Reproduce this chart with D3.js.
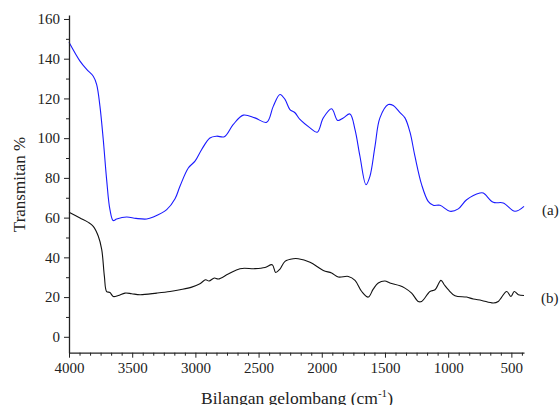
<!DOCTYPE html>
<html><head><meta charset="utf-8">
<script src="https://cdn.jsdelivr.net/npm/d3@7"></script>
<style>body{margin:0;background:#fff}svg{display:block}text{font-family:"Liberation Serif","Times New Roman",serif;fill:#222}</style>
</head><body><div id="chart"></div>
<script>
// wavenumber (cm-1) and transmittance (%)
const waveA = [4000,3913,3860,3808,3781,3755,3729,3702,3676,3650,3623,3544,3470,3385,3333,3227,3161,3122,3056,3003,2950,2885,2832,2771,2700,2621,2529,2436,2384,2331,2291,2252,2212,2173,2093,2036,1988,1922,1874,1830,1777,1737,1698,1650,1619,1579,1540,1474,1434,1381,1342,1302,1263,1210,1158,1118,1065,986,920,854,749,722,643,564,472,400];
const transA = [148.3,138.8,134.6,131.2,127,116,99.3,79,64,58.5,59.3,60.3,59.6,59.3,60.3,64,69.5,75.8,85,88.4,94.3,100.1,101,100.7,106.9,111.6,110.2,108,116,122,119.5,114.4,112.8,109.4,105.2,103,110.2,114.8,108.9,110.2,112.2,104.3,90.9,76.6,80.8,95.9,110.2,116.9,116.4,112.8,110.2,103,90.9,76.6,68.2,66.2,66.2,63.2,64.4,69,72.4,72.4,67.7,67.4,63.2,65.7];
const waveB = [4000,3913,3847,3808,3768,3741,3720,3702,3676,3650,3610,3557,3504,3438,3306,3201,3122,3029,2964,2919,2892,2850,2819,2740,2647,2529,2449,2392,2365,2331,2291,2226,2186,2093,1988,1922,1870,1790,1737,1684,1632,1593,1553,1500,1461,1381,1342,1289,1237,1210,1144,1104,1057,1031,999,946,854,801,735,643,604,537,503,477,445,400];
const transB = [62.7,59.8,57.6,55.6,50.6,43.9,30.4,22.8,22.3,20.3,20.8,22,21.7,21.2,22,22.8,23.7,25,26.7,28.7,28.1,29.6,29.1,31.6,34.3,34.3,34.9,36.3,32.4,34.1,38,39.3,39.3,37.5,33.4,32.1,30.1,30.4,28.4,22.8,20,24,27.1,28.1,27.1,25.7,24.5,22,17.8,17.8,22.8,23.7,28.4,26.2,23.7,20.7,20,19,18.3,17,17.8,22.8,20.3,22.8,21.2,20.8];
const yTicks = [0,20,40,60,80,100,120,140,160];
const xTicks = [4000,3500,3000,2500,2000,1500,1000,500];
const seriesLabels = ["(a)","(b)"];
const xTitle = "Bilangan gelombang (cm";
const yTitle = "Transmitan %";

const W = 560, H = 405;
const svg = d3.select("#chart").append("svg").attr("width", W).attr("height", H);
const x = d3.scaleLinear().domain([4000, 400]).range([69, 524]);
const y = d3.scaleLinear().domain([-8, 162]).range([352.7, 15]);

const line = d3.line().x(d => x(d[0])).y(d => y(d[1])).curve(d3.curveCatmullRom.alpha(0.5));
const dataA = waveA.map((w, i) => [w, transA[i]]);
const dataB = waveB.map((w, i) => [w, transB[i]]);
svg.append("path").datum(dataA).attr("d", line).attr("fill", "none").attr("stroke", "#1a1aff").attr("stroke-width", 1.1);
svg.append("path").datum(dataB).attr("d", line).attr("fill", "none").attr("stroke", "#111").attr("stroke-width", 1.1);

// minor ticks
const xMinor = d3.range(0, 44).map(i => 4000 - i * 500 / 6).filter(v => v >= 400 && !xTicks.some(t => Math.abs(t - v) < 1));
const yMinor = d3.range(10, 160, 20);
const gx = svg.append("g").attr("transform", "translate(0,352.7)");
gx.call(d3.axisBottom(x).tickValues(xMinor).tickSize(3).tickSizeOuter(0).tickFormat(""));
gx.call(g => g.selectAll(".domain").remove());
const gx2 = svg.append("g").attr("transform", "translate(0,352.7)");
gx2.call(d3.axisBottom(x).tickValues(xTicks).tickSize(5).tickSizeOuter(0).tickPadding(5).tickFormat(d3.format("d")));
const gy = svg.append("g").attr("transform", "translate(69,0)");
gy.call(d3.axisLeft(y).tickValues(yMinor).tickSize(3).tickSizeOuter(0).tickFormat(""));
gy.call(g => g.selectAll(".domain").remove());
const gy2 = svg.append("g").attr("transform", "translate(69,0)");
gy2.call(d3.axisLeft(y).tickValues(yTicks).tickSize(5).tickSizeOuter(0).tickPadding(4));
svg.selectAll(".tick line").attr("stroke", "#222").attr("stroke-width", 1);
svg.selectAll(".domain").attr("stroke", "#222").attr("stroke-width", 1.3);
svg.selectAll(".tick text").style("font-family", '"Liberation Serif",serif').style("font-size", "15px").attr("fill", "#222");

// series labels
svg.append("text").attr("x", 542).attr("y", 215).style("font-size", "15px").text(seriesLabels[0]);
svg.append("text").attr("x", 541).attr("y", 303).style("font-size", "15px").text(seriesLabels[1]);

// titles
const xt = svg.append("text").attr("x", 297).attr("y", 403.5).attr("text-anchor", "middle").style("font-size", "17.5px");
xt.append("tspan").text(xTitle);
xt.append("tspan").attr("dy", -7).style("font-size", "11px").text("-1");
xt.append("tspan").attr("dy", 7).text(")");
svg.append("text").attr("transform", "translate(25,184.5) rotate(-90)").attr("text-anchor", "middle").style("font-size", "17px").text(yTitle);
</script></body></html>
